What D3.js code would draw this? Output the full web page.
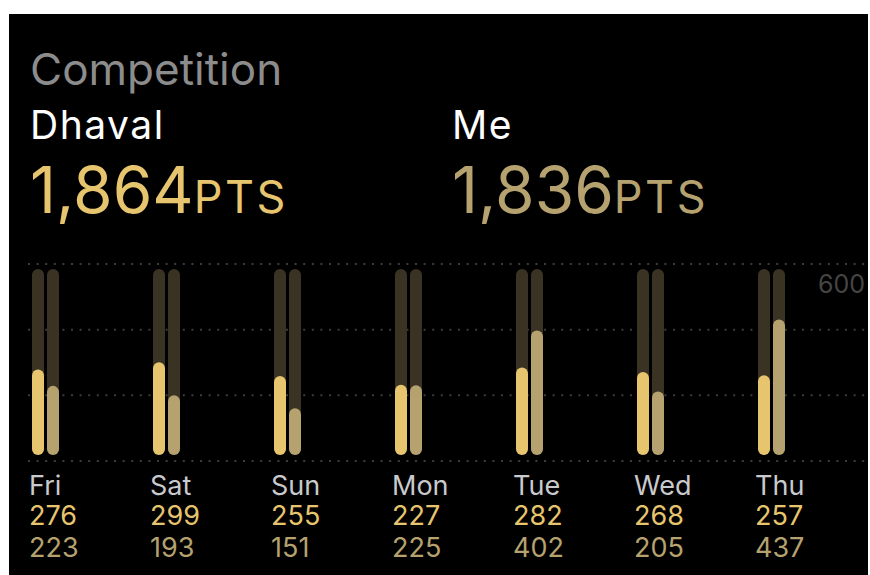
<!DOCTYPE html>
<html>
<head>
    <title>Competition</title>
    <script src="https://d3js.org/d3.v7.min.js"></script>
    <style>
        body { margin: 0; background: #fff; }
        text { font-family: Inter, "Noto Sans", sans-serif; }
    </style>
</head>
<body>
    <svg width="870" height="575"></svg>
    <script>
        var days = ["Fri", "Sat", "Sun", "Mon", "Tue", "Wed", "Thu"];
        var dhaval = [276, 299, 255, 227, 282, 268, 257];
        var me = [223, 193, 151, 225, 402, 205, 437];
        var gridTicks = [0, 200, 400, 600];
        var players = ["Dhaval", "Me"];

        var gold = "#e6c56e", dimGold = "#b5a26f", track = "#3a3324";

        var svg = d3.select("svg");
        svg.append("rect").attr("x", 9).attr("y", 14).attr("width", 859).attr("height", 561).attr("fill", "#000");

        var fmt = d3.format(",");

        // header
        svg.append("text").attr("x", 30).attr("y", 85).attr("font-size", 44)
           .attr("fill", "#8c8c8c").text("Competition");

        var header = [
            {name: "Dhaval", total: d3.sum(dhaval), x: 30, color: gold},
            {name: "Me", total: d3.sum(me), x: 452, color: dimGold}
        ];
        header.forEach(function(h) {
            svg.append("text").attr("x", h.x).attr("y", 139).attr("font-size", 39)
               .attr("letter-spacing", 1.5).attr("fill", "#fff").text(h.name);
            var t = svg.append("text").attr("x", h.x).attr("y", 213).attr("fill", h.color);
            t.append("tspan").attr("font-size", 64).text(fmt(h.total));
            t.append("tspan").attr("font-size", 45).attr("letter-spacing", 2.5).text("PTS");
        });

        // scales
        var x = d3.scaleBand().domain(days).range([32, 32 + 121 * 7]);
        var xs = d3.scaleBand().domain(players).range([0, 27]).paddingInner(0.2);
        var y = d3.scaleLinear().domain([0, 600]).range([455, 269]);
        var yGrid = d3.scaleLinear().domain([0, 600]).range([461, 264]);

        // dotted grid
        svg.selectAll(".grid").data(gridTicks).enter().append("line")
           .attr("x1", 28).attr("x2", 868)
           .attr("y1", function(d) { return yGrid(d); })
           .attr("y2", function(d) { return yGrid(d); })
           .attr("stroke", "#3c3c3c").attr("stroke-width", 2)
           .attr("stroke-dasharray", "2,6.6");

        svg.append("text").attr("x", 818).attr("y", 293).attr("font-size", 25)
           .attr("fill", "#454545").text(gridTicks[gridTicks.length - 1]);

        var rows = days.map(function(d, i) {
            return {day: d, vals: [{p: "Dhaval", v: dhaval[i], c: gold}, {p: "Me", v: me[i], c: dimGold}]};
        });

        var g = svg.selectAll(".day").data(rows).enter().append("g")
           .attr("transform", function(d) { return "translate(" + x(d.day) + ",0)"; });

        var bw = xs.bandwidth();
        g.selectAll(".track").data(function(d) { return d.vals; }).enter().append("rect")
           .attr("x", function(d) { return xs(d.p); })
           .attr("y", y(600)).attr("width", bw).attr("height", y(0) - y(600))
           .attr("rx", bw / 2).attr("fill", track);

        g.selectAll(".bar").data(function(d) { return d.vals; }).enter().append("rect")
           .attr("x", function(d) { return xs(d.p); })
           .attr("y", function(d) { return y(d.v); })
           .attr("width", bw)
           .attr("height", function(d) { return y(0) - y(d.v); })
           .attr("rx", bw / 2).attr("fill", function(d) { return d.c; });

        g.append("text").attr("x", -3).attr("y", 495).attr("font-size", 27).attr("fill", "#c9cacd")
           .text(function(d) { return d.day; });
        g.append("text").attr("x", -3).attr("y", 525).attr("font-size", 27).attr("fill", gold)
           .text(function(d) { return d.vals[0].v; });
        g.append("text").attr("x", -3).attr("y", 557).attr("font-size", 27).attr("fill", dimGold)
           .text(function(d) { return d.vals[1].v; });
    </script>
</body>
</html>
